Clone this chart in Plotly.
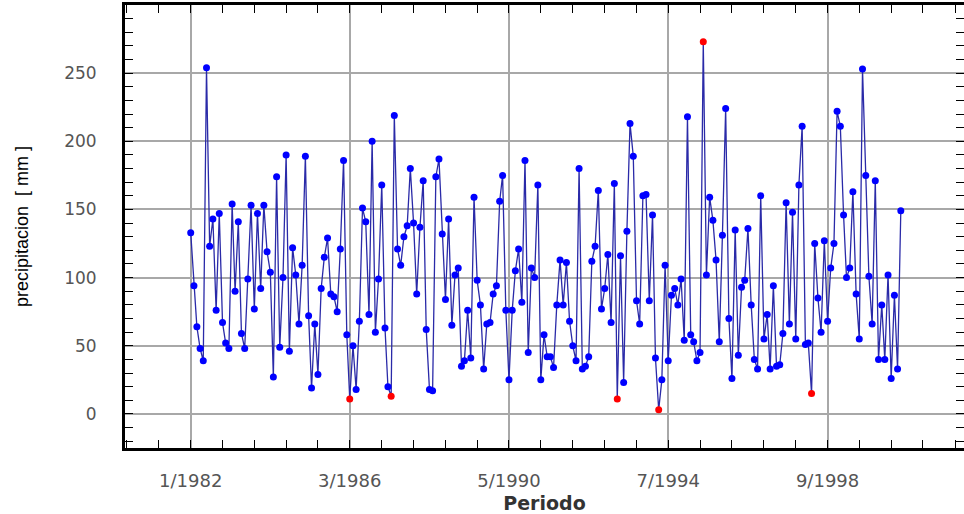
import pandas as pd
import plotly.graph_objects as go

start_month = "1982-01"

precip_mm = [
    133, 94, 64, 48, 39, 254, 123, 143, 76, 147, 67, 52, 48, 154, 90, 141, 59, 48, 99, 153,
    77, 147, 92, 153, 119, 104, 27, 174, 49,
    100, 190, 46, 122, 102, 66, 109, 189, 72, 19, 66, 29, 92, 115, 129, 88, 86, 75, 121, 186,
    58, 11,
    50, 18, 68, 151, 141, 73, 200, 60, 99, 168, 63, 20, 13, 219, 121, 109, 130, 138, 180, 140, 88,
    137, 171, 62, 18, 17, 174, 187, 132, 84, 143, 65, 102, 107, 35, 39, 76, 41, 159, 98, 80, 33, 66,
    67, 88, 94, 156, 175, 76, 25, 76, 105, 121, 82, 186, 45, 107, 100, 168, 25, 58, 42, 42, 34,
    80, 113,
    80, 111, 68, 50, 39, 180, 33, 35, 42, 112, 123, 164, 77, 92, 117, 67, 169, 11, 116, 23, 134, 213,
    189, 83, 66, 160, 161, 83, 146, 41, 3, 25, 109, 39, 87, 92, 80, 99, 54, 218, 58, 53, 39, 45,
    273, 102, 159, 142, 113, 53, 131, 224, 70, 26, 135, 43, 93, 98, 136, 80, 40, 33, 160, 55, 73, 33,
    94, 35, 36, 59, 155, 66, 148, 55, 168, 211, 51, 52, 15, 125, 85, 60, 127, 68, 107, 125, 222, 211,
    146, 100, 107, 163, 88, 55, 253, 175, 101, 66, 171, 40, 80, 40, 102, 26, 87, 33, 149,
]

tick_labels = ["1/1982", "3/1986", "5/1990", "7/1994", "9/1998"]

y_title = "precipitacion  [ mm ]"
x_title = "Periodo"

dates = pd.date_range(start_month + "-01", periods=len(precip_mm), freq="MS")
tick_vals = [pd.Timestamp(year=int(t.split("/")[1]), month=int(t.split("/")[0]), day=1)
             for t in tick_labels]

low_thr, high_thr = 16, 260
marker_colors = ["#ff0000" if (v < low_thr or v > high_thr) else "#0000ff" for v in precip_mm]

fig = go.Figure()
fig.add_trace(go.Scatter(
    x=dates, y=precip_mm, mode="lines+markers",
    line=dict(color="#2a2aa8", width=1.3),
    marker=dict(color=marker_colors, size=7, symbol="circle", line=dict(width=0)),
    showlegend=False,
))

x_font = dict(family="DejaVu Sans, sans-serif", size=18, color="#555555")
y_font = dict(family="DejaVu Sans, sans-serif", size=17, color="#555555")

fig.update_layout(
    width=964, height=514,
    margin=dict(l=125, r=0, t=5, b=66, autoexpand=False),
    paper_bgcolor="white", plot_bgcolor="white",
    xaxis=dict(
        type="date",
        range=["1980-04-13", "2002-03-28"],
        tickmode="array", tickvals=tick_vals, ticktext=tick_labels,
        ticks="inside", ticklen=8, tickwidth=1, tickcolor="black",
        showgrid=True, gridcolor="#a8a8a8", gridwidth=1.5,
        showline=True, linecolor="black", linewidth=3, mirror="allticks",
        zeroline=False,
        minor=dict(dtick="M10", tick0="1982-01-01", ticks="inside", ticklen=8,
                   tickcolor="black", showgrid=False),
        tickfont=x_font, ticklabelstandoff=14,
        title=dict(text="<b>" + x_title + "</b>",
                   font=dict(family="DejaVu Sans, sans-serif", size=19, color="#333333"),
                   standoff=10),
    ),
    yaxis=dict(
        range=[-25, 300], tick0=0, dtick=50,
        ticks="inside", ticklen=8, tickwidth=1, tickcolor="black",
        showgrid=True, gridcolor="#a8a8a8", gridwidth=1.5,
        showline=True, linecolor="black", linewidth=3, mirror="allticks",
        zeroline=False,
        minor=dict(dtick=10, tick0=0, ticks="inside", ticklen=8, tickcolor="black", showgrid=False),
        tickfont=y_font, ticklabelstandoff=22,
        title=dict(text=y_title,
                   font=dict(family="Liberation Sans Narrow, Arial Narrow, sans-serif", size=18, color="black"),
                   standoff=31),
    ),
)

fig.write_html(
    "out.html",
    config={"displayModeBar": False},
    post_script="document.body.style.margin='0';document.body.style.overflow='hidden';",
)
